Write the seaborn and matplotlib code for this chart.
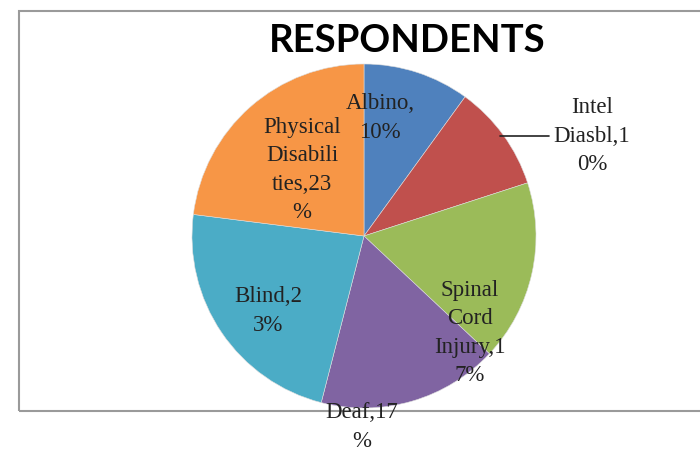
import matplotlib
matplotlib.use("Agg")
import matplotlib.pyplot as plt
import seaborn as sns
from matplotlib.patches import Rectangle

# dati
categories = ["Albino", "Intel Diasbl", "Spinal Cord Injury", "Deaf", "Blind", "Physical Disabilities"]
shares = [10, 10, 17, 17, 23, 23]
label_texts = [
    "Albino,\n10%",
    "Intel\nDiasbl,1\n0%",
    "Spinal\nCord\nInjury,1\n7%",
    "Deaf,17\n%",
    "Blind,2\n3%",
    "Physical\nDisabili\nties,23\n%",
]
colors = ["#4F81BD", "#C0504D", "#9BBB59", "#8064A2", "#4BACC6", "#F79646"]

# layout in pixel (origine in alto a sinistra)
W, H = 700, 454
cx, cy, radius = 364, 236, 172
label_pos = [(380, 118), (592, 136), (470, 333), (362, 427), (268, 311), (302, 170)]

sns.set_theme(style="white")
plt.rcParams["font.family"] = ["Liberation Serif", "DejaVu Serif"]

fig = plt.figure(figsize=(W / 100, H / 100), dpi=100)
ax = fig.add_axes([0, 0, 1, 1])

# cornice del grafico
ax.add_patch(Rectangle((19, H - 411), 700, 400, fill=False, edgecolor="#9a9a9a", linewidth=1.5))

ax.pie(shares, colors=colors, startangle=90, counterclock=False,
       center=(cx, H - cy), radius=radius, frame=True,
       wedgeprops=dict(linewidth=0.4, edgecolor="#dddddd"))
ax.set_xlim(0, W)
ax.set_ylim(0, H)
ax.set_aspect("equal")
ax.axis("off")

for txt, (x, y) in zip(label_texts, label_pos):
    ax.text(x, H - y, txt, ha="center", va="center", fontsize=16.5,
            color="#222222", linespacing=1.45)

# linea guida per Intel Diasbl
ax.plot([500, 549], [H - 136, H - 136], color="#222222", linewidth=1.2)

ax.text(407, H - 41, "RESPONDENTS", ha="center", va="center", fontsize=27.5,
        fontweight="bold", family=["Lato", "DejaVu Sans"], color="black")

fig.savefig("out.png", dpi=100, facecolor="white")
